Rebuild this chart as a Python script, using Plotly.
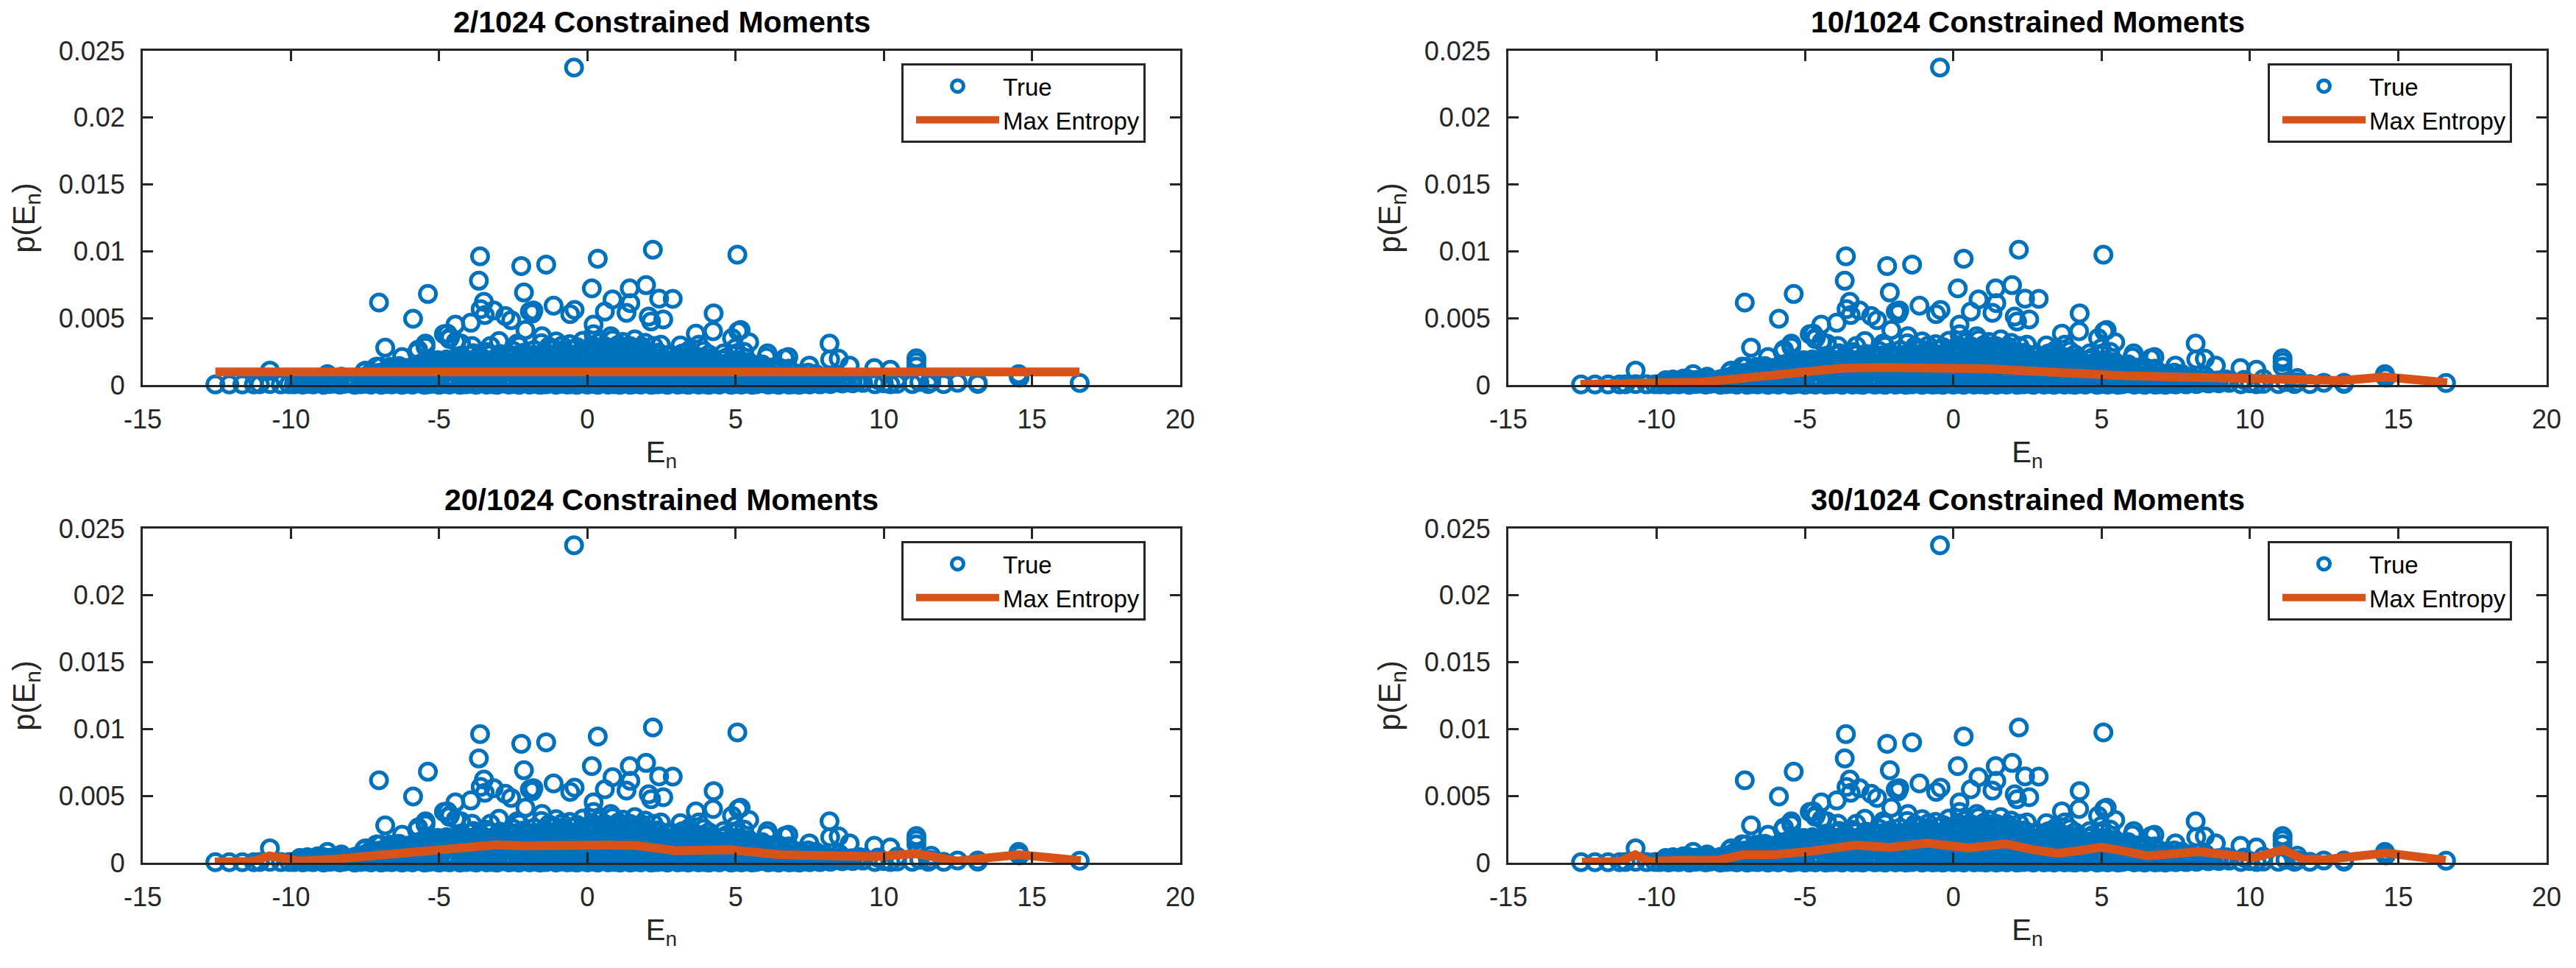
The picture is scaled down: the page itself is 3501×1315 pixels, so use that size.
import plotly.graph_objects as go

# ---- "True" scatter: values, (E_n, p(E_n)) ----
visible_points = [
(-0.45,0.02375),(2.21,0.01012),(5.06,0.00975),(-3.62,0.00962),(0.35,0.00945),(-1.39,0.00901),(-2.23,0.0089),
(-3.66,0.0078),(1.98,0.00747),(1.43,0.00723),(0.15,0.00723),(-2.14,0.00692),(-5.38,0.00681),(2.88,0.00644),(2.42,0.00646),
(0.85,0.0064),(-3.49,0.00622),(-7.03,0.00617),(1.45,0.00613),(-1.14,0.00593),(-3.6,0.00567),(-0.43,0.00562),(-3.16,0.00558),
(-1.82,0.00558),(0.59,0.00549),(-1.94,0.00549),(1.32,0.0054),(4.26,0.00536),(-1.86,0.00535),(-0.58,0.0053),(-3.46,0.00523),
(-2.77,0.00516),(2.07,0.00512),(-5.88,0.00496),(2.56,0.0049),(-2.57,0.00485),(2.15,0.00475),(-3.93,0.00466),(0.21,0.00451),
(-4.45,0.00451),(5.17,0.00411),(-2.09,0.00411),(4.24,0.00402),(5.09,0.00402),(-4.72,0.00384),(3.66,0.00384),(0.21,0.0038),
(-4.84,0.0038),(0.79,0.00365),(-1.53,0.00365),(-4.63,0.00356),(-4.66,0.00345),(4.88,0.00351),(-2.98,0.00329),(5.46,0.00319),
(-5.46,0.0031),(8.17,0.0031),(-4.26,0.0031),(-2.37,0.0031),(3.76,0.00301),(2.48,0.00301),(3.14,0.00296),(-3.89,0.00292),
(-3.27,0.00292),(2.23,0.00292),(-6.82,0.00279),(4.99,0.00275),(-5.71,0.00264),(3.43,0.00259),(3.93,0.00255),(5.29,0.00248),
(6.08,0.00237),(-6.25,0.00209),(6.04,0.00209),(6.78,0.00209),(11.1,0.002),(6.66,0.002),(8.48,0.00197),(8.19,0.00191),
(-5.75,0.00246),(-5.46,0.00285),(-4.44,0.00325),(11.1,0.00172),(8.85,0.00145),(7.49,0.00145),(-7.12,0.00137),(-6.99,0.00136),
(11.1,0.00137),(9.68,0.00127),(10.22,0.00114),(-7.49,0.00108),(-10.71,0.00108),(-7.53,0.00099),(-8.77,0.00081),(14.55,0.00081),
(14.55,0.00062),(14.58,0.00055),(11.6,0.00052),(10.45,0.00045),(9.8,0.00038),(-8.3,0.00062),(-9.1,0.00048),
(16.61,0.00015),(13.17,0.00017),(13.17,0.00008),(12.49,0.00017),(12.02,0.00007),(11.5,0.00007),(11.6,0.0002),(10.96,0.00007),
(11.2,0.00022),(10.22,0.00006),(10.0,0.00012),(9.7,0.00006),(10.45,0.00009),
(-12.55,0.00004),(-12.08,0.00004),(-11.64,0.00004),(-11.25,0.00004),(-11.05,0.00006),(-10.71,0.00007),(-10.34,0.00005),(-10.06,0.00006),
]
floor_points = [
(-9.9,0.00005),(-9.75,0.00012),(-9.6,0.00003),(-9.4,0.00009),(-9.25,0.00004),(-9.05,0.00014),(-8.9,0.00002),(-8.7,0.00007),(-8.55,0.00011),
(-8.35,0.00003),(-8.2,0.00008),(-8.0,0.00013),(-7.85,0.00002),(-7.65,0.00006),(-7.5,0.0001),(-7.3,0.00003),(-7.1,0.00012),(-6.95,0.00002),
(-6.75,0.00007),(-6.6,0.00004),(-6.4,0.00011),(-6.25,0.00002),(-6.05,0.00009),(-5.9,0.00003),(-5.7,0.00013),(-5.5,0.00002),(-5.35,0.00006),
(-5.15,0.0001),(-5.0,0.00002),(-4.8,0.00008),(-4.65,0.00003),(-4.45,0.00012),(-4.3,0.00002),(-4.1,0.00005),(-3.9,0.00009),(-3.75,0.00002),
(-3.55,0.00014),(-3.4,0.00003),(-3.2,0.00006),(-3.05,0.00002),(-2.85,0.00011),(-2.65,0.00003),(-2.5,0.00007),(-2.3,0.00002),(-2.15,0.00012),
(-1.95,0.00003),(-1.8,0.00008),(-1.6,0.00002),(-1.4,0.00005),(-1.25,0.00013),(-1.05,0.00002),(-0.9,0.00009),(-0.7,0.00003),(-0.55,0.00006),
(-0.35,0.00002),(-0.15,0.00011),(0.0,0.00003),(0.2,0.00008),(0.35,0.00002),(0.55,0.00013),(0.7,0.00003),(0.9,0.00006),(1.1,0.00002),
(1.25,0.0001),(1.45,0.00002),(1.6,0.00007),(1.8,0.00003),(1.95,0.00012),(2.15,0.00002),(2.35,0.00005),(2.5,0.00009),(2.7,0.00002),
(2.85,0.00014),(3.05,0.00003),(3.2,0.00007),(3.4,0.00002),(3.6,0.00011),(3.75,0.00003),(3.95,0.00006),(4.1,0.00002),(4.3,0.00009),
(4.45,0.00003),(4.65,0.00012),(4.85,0.00002),(5.0,0.00007),(5.2,0.00003),(5.35,0.0001),(5.55,0.00002),(5.7,0.00006),(5.9,0.00013),
(6.1,0.00003),(6.25,0.00008),(6.45,0.00002),(6.6,0.00011),(6.8,0.00003),(6.95,0.00006),(7.15,0.00002),(7.35,0.00009),(7.5,0.00004),
(7.7,0.00013),(7.85,0.00005),(8.05,0.00016),(8.2,0.00007),(8.4,0.00019),(8.6,0.00011),(8.75,0.00021),(8.95,0.00012),(9.1,0.00024),(9.3,0.00016),
]
near_floor_points = [
(-9.55,0.00021),(-9.3,0.00026),(-9.0,0.00019),(-8.75,0.00024),(-8.45,0.00029),(-8.15,0.00022),(-7.9,0.00027),(-7.6,0.0002),(-7.3,0.00025),
(-7.05,0.0003),(-6.75,0.00023),(-6.45,0.00018),(-6.2,0.00026),(-5.9,0.00021),(-5.6,0.00028),(-5.35,0.00023),(-5.05,0.00019),(-4.75,0.00027),
(-4.5,0.00022),(-4.2,0.00029),(-3.9,0.0002),(-3.65,0.00025),(-3.35,0.00021),(-3.05,0.00028),(-2.8,0.00024),(-2.5,0.00019),(-2.2,0.00026),
(-1.95,0.00022),(-1.65,0.00029),(-1.35,0.0002),(-1.1,0.00025),(-0.8,0.00023),(-0.5,0.00018),(-0.25,0.00027),(0.05,0.00021),(0.35,0.00028),
(0.6,0.00023),(0.9,0.00019),(1.2,0.00026),(1.45,0.00022),(1.75,0.00029),(2.05,0.0002),(2.3,0.00025),(2.6,0.00021),(2.9,0.00028),
(3.15,0.00024),(3.45,0.00019),(3.75,0.00026),(4.0,0.00022),(4.3,0.00029),(4.6,0.0002),(4.85,0.00025),(5.15,0.00023),(5.45,0.00018),
(5.7,0.00027),(6.0,0.00021),(6.3,0.00028),(6.55,0.00023),(6.85,0.00019),(7.15,0.00026),(7.4,0.00022),(7.7,0.00029),(8.0,0.0002),(8.3,0.00031),(8.6,0.00028),(8.95,0.00033),
]
low_points = [
(-9.7,0.00036),(-9.45,0.00041),(-9.2,0.00033),(-8.95,0.00045),(-8.65,0.00038),(-8.4,0.00047),(-8.1,0.00035),(-7.85,0.00044),(-7.6,0.00039),
(-7.25,0.00048),(-7.0,0.00036),(-6.7,0.00042),(-6.45,0.00051),(-6.15,0.00037),(-5.85,0.00046),(-5.6,0.00034),(-5.3,0.00043),(-5.05,0.00052),
(-4.75,0.00038),(-4.5,0.00047),(-4.2,0.00035),(-3.9,0.00044),(-3.65,0.00053),(-3.35,0.00039),(-3.1,0.00048),(-2.8,0.00036),(-2.55,0.00042),
(-2.25,0.00051),(-1.95,0.00037),(-1.7,0.00046),(-1.4,0.00034),(-1.15,0.00043),(-0.85,0.00052),(-0.6,0.00038),(-0.3,0.00047),(0.0,0.00035),
(0.25,0.00044),(0.55,0.00053),(0.8,0.00039),(1.1,0.00048),(1.35,0.00036),(1.65,0.00042),(1.95,0.00051),(2.2,0.00037),(2.5,0.00046),
(2.75,0.00034),(3.05,0.00043),(3.3,0.00052),(3.6,0.00038),(3.85,0.00047),(4.15,0.00035),(4.45,0.00044),(4.7,0.00053),(5.0,0.00039),
(5.25,0.00048),(5.55,0.00036),(5.8,0.00042),(6.1,0.00051),(6.4,0.00037),(6.65,0.00046),(6.95,0.00034),(7.2,0.00043),(7.5,0.00049),
(7.75,0.00038),(8.05,0.00047),(8.35,0.00035),(8.6,0.00044),(8.9,0.00033),(9.2,0.00041),
]
lower_mid_points = [
(-7.5,0.00064),(-7.2,0.0007),(-6.9,0.00066),(-6.6,0.00073),(-6.3,0.00067),(-6.0,0.00071),(-5.75,0.00064),(-5.45,0.00074),(-5.2,0.00068),
(-4.9,0.00072),(-4.65,0.00065),(-4.35,0.00075),(-4.1,0.00069),(-3.8,0.00063),(-3.55,0.00073),(-3.25,0.00067),(-3.0,0.00071),(-2.7,0.00065),
(-2.45,0.00074),(-2.15,0.00068),(-1.85,0.00063),(-1.6,0.00072),(-1.3,0.00066),(-1.05,0.00075),(-0.75,0.00069),(-0.5,0.00064),(-0.2,0.00073),
(0.1,0.00067),(0.35,0.00071),(0.65,0.00065),(0.9,0.00074),(1.2,0.00068),(1.45,0.00063),(1.75,0.00072),(2.05,0.00066),(2.3,0.00075),
(2.6,0.00069),(2.85,0.00064),(3.15,0.00073),(3.45,0.00067),(3.7,0.00071),(4.0,0.00065),(4.25,0.00074),(4.55,0.00068),(4.85,0.00063),
(5.1,0.00072),(5.4,0.00066),(5.65,0.00075),(5.95,0.00069),(6.25,0.00064),(6.5,0.00073),(6.8,0.00067),(7.05,0.00071),(7.35,0.00065),(7.65,0.00068),(8.0,0.00062),(8.5,0.00066),
]
mid_points = [
(-7.35,0.00082),(-7.05,0.00091),(-6.75,0.00098),(-6.5,0.00085),(-6.2,0.00102),(-5.9,0.00088),(-5.65,0.00097),(-5.35,0.00106),(-5.1,0.0009),
(-4.8,0.00099),(-4.55,0.00108),(-4.25,0.00093),(-3.95,0.00087),(-3.7,0.00101),(-3.4,0.00092),(-3.15,0.00106),(-2.85,0.00089),(-2.6,0.00098),
(-2.3,0.00085),(-2.0,0.00103),(-1.75,0.00092),(-1.45,0.00107),(-1.2,0.00088),(-0.9,0.00097),(-0.65,0.00105),(-0.35,0.0009),(-0.05,0.00099),
(0.2,0.00086),(0.5,0.00104),(0.75,0.00093),(1.05,0.00108),(1.3,0.00089),(1.6,0.00098),(1.9,0.00085),(2.15,0.00102),(2.45,0.00091),
(2.7,0.00106),(3.0,0.00088),(3.25,0.00097),(3.55,0.00105),(3.8,0.0009),(4.1,0.00099),(4.4,0.00086),(4.65,0.00104),(4.95,0.00093),
(5.2,0.00107),(5.5,0.00089),(5.75,0.00098),(6.05,0.00085),(6.35,0.00102),(6.6,0.00091),(6.9,0.00096),(7.15,0.00084),(7.45,0.00092),(7.7,0.00083),
]
upper_mid_points = [
(-6.75,0.00118),(-6.45,0.00123),(-6.15,0.00115),(-5.9,0.00126),(-5.6,0.0012),(-5.3,0.00117),(-5.05,0.00125),(-4.75,0.00119),(-4.45,0.00124),
(-4.2,0.00116),(-3.9,0.00127),(-3.6,0.00121),(-3.35,0.00118),(-3.05,0.00125),(-2.75,0.00119),(-2.5,0.00123),(-2.2,0.00116),(-1.9,0.00126),
(-1.65,0.0012),(-1.35,0.00124),(-1.05,0.00117),(-0.8,0.00127),(-0.5,0.00121),(-0.2,0.00118),(0.05,0.00125),(0.35,0.00119),(0.65,0.00123),
(0.9,0.00116),(1.2,0.00126),(1.5,0.0012),(1.75,0.00124),(2.05,0.00117),(2.35,0.00127),(2.6,0.00121),(2.9,0.00118),(3.2,0.00125),
(3.45,0.00119),(3.75,0.00123),(4.05,0.00116),(4.3,0.00126),(4.6,0.0012),(4.9,0.00124),(5.15,0.00117),(5.45,0.00122),(5.75,0.00115),(6.05,0.00118),(6.4,0.00112),(6.8,0.00108),
]
upper_points = [
(-6.65,0.00135),(-6.35,0.00142),(-6.05,0.00128),(-5.75,0.00151),(-5.5,0.00137),(-5.2,0.00146),(-4.9,0.00133),(-4.65,0.00155),(-4.35,0.0014),
(-4.05,0.00149),(-3.8,0.00136),(-3.5,0.00152),(-3.2,0.00143),(-2.95,0.00131),(-2.65,0.00156),(-2.35,0.00139),(-2.05,0.00148),(-1.8,0.00134),
(-1.5,0.00153),(-1.2,0.00141),(-0.95,0.0015),(-0.65,0.00132),(-0.35,0.00146),(-0.05,0.00138),(0.2,0.00155),(0.5,0.00143),(0.8,0.00133),
(1.05,0.00151),(1.35,0.0014),(1.65,0.00148),(1.95,0.00135),(2.2,0.00154),(2.5,0.00142),(2.8,0.0013),(3.05,0.0015),(3.35,0.00138),
(3.65,0.00147),(3.95,0.00134),(4.2,0.00152),(4.5,0.00141),(4.8,0.00149),(5.05,0.00136),(5.35,0.00145),(5.65,0.00132),(5.95,0.00141),
(6.2,0.0013),(6.5,0.00128),(6.8,0.00122),
]
shoulder_points = [
(-5.6,0.00163),(-5.3,0.00168),(-5.0,0.00161),(-4.7,0.00171),(-4.4,0.00165),(-4.1,0.00169),(-3.8,0.00162),(-3.5,0.00172),(-3.2,0.00166),
(-2.9,0.0017),(-2.6,0.00163),(-2.3,0.00173),(-2.0,0.00167),(-1.7,0.00161),(-1.4,0.00171),(-1.1,0.00165),(-0.8,0.00169),(-0.5,0.00162),
(-0.2,0.00172),(0.1,0.00166),(0.4,0.0017),(0.7,0.00163),(1.0,0.00173),(1.3,0.00167),(1.6,0.00161),(1.9,0.00171),(2.2,0.00165),
(2.5,0.00169),(2.8,0.00162),(3.1,0.00168),(3.4,0.00161),(3.7,0.00166),(4.0,0.0016),(4.3,0.00164),(4.6,0.00158),(4.9,0.00163),(5.2,0.00157),(5.5,0.0016),(5.9,0.00154),
]
high_points = [
(-5.35,0.00178),(-5.05,0.00186),(-4.75,0.00192),(-4.45,0.00181),(-4.15,0.00198),(-3.85,0.00188),(-3.55,0.00202),(-3.25,0.00184),(-2.95,0.00196),
(-2.65,0.00207),(-2.35,0.00189),(-2.05,0.002),(-1.75,0.00186),(-1.45,0.00208),(-1.15,0.00193),(-0.85,0.00203),(-0.55,0.00187),(-0.25,0.00199),
(0.05,0.00209),(0.35,0.0019),(0.65,0.00204),(0.95,0.00188),(1.25,0.00206),(1.55,0.00194),(1.85,0.00201),(2.15,0.00186),(2.45,0.00197),
(2.75,0.00183),(3.05,0.00192),(3.35,0.00178),(3.65,0.00187),(3.95,0.00175),(4.25,0.00184),(4.55,0.0019),(4.85,0.00177),(5.15,0.00186),(5.45,0.00172),
]
crest_points = [
(-4.3,0.00218),(-3.95,0.00224),(-3.65,0.00217),(-3.3,0.00226),(-3.0,0.00221),(-2.7,0.00229),(-2.4,0.00222),(-2.1,0.00231),(-1.8,0.00225),
(-1.5,0.00234),(-1.2,0.00227),(-0.9,0.00235),(-0.6,0.00229),(-0.3,0.00237),(0.0,0.00231),(0.3,0.00238),(0.6,0.00232),(0.9,0.00239),
(1.2,0.00233),(1.5,0.00237),(1.8,0.0023),(2.1,0.00234),(2.4,0.00226),(2.7,0.00221),(3.05,0.00216),(3.4,0.00212),(3.8,0.00207),(4.2,0.00203),(4.7,0.00206),
]
peak_points = [
(-3.85,0.00238),(-3.4,0.00247),(-2.95,0.00232),(-2.5,0.00254),(-2.15,0.00241),(-1.8,0.00262),(-1.45,0.00248),(-1.1,0.00268),(-0.75,0.00252),
(-0.4,0.00271),(-0.05,0.00256),(0.3,0.00274),(0.65,0.00259),(1.0,0.00276),(1.35,0.00261),(1.7,0.00268),(2.05,0.00249),(2.4,0.00242),
(2.8,0.00228),(3.2,0.00236),(3.6,0.00222),(4.1,0.00229),(4.6,0.00237),(5.0,0.00224),
(-1.55,0.00312),(-1.05,0.00326),(-0.6,0.00305),(-0.15,0.00331),(0.4,0.00318),(0.85,0.00338),(1.2,0.00322),(1.6,0.00341),(1.95,0.00315),(-2.3,0.00292),
(-1.3,0.00288),(-0.85,0.00295),(-0.35,0.00284),(0.15,0.00298),(0.6,0.00289),(1.05,0.00302),(1.45,0.00291),(1.85,0.00287),
]

# ---- "Max Entropy" curves, one per panel ----
curve_2_E = [-12.55, 16.6]
curve_2_p = [0.00098, 0.00098]
curve_10_E = [-12.57,-10.5,-8.48,-7.2,-6.01,-4.9,-3.76,-2.4,-1.06,0.1,1.18,2.3,3.43,4.5,5.68,7.1,8.6,10.85,12.0,13.1,14.56,16.65]
curve_10_p = [0.00006,0.00014,0.00022,0.00048,0.00079,0.00105,0.00125,0.00131,0.0013,0.00128,0.00121,0.00107,0.00092,0.0008,0.0007,0.00062,0.00057,0.00033,0.00031,0.00033,0.00061,0.00017]
curve_20_E = [-12.57,-11.3,-10.73,-9.72,-8.48,-7.13,-5.78,-4.44,-3.09,-2.1,-1.06,-0.2,0.73,1.63,2.98,3.9,4.78,6.58,8.38,9.72,11.07,12.47,14.56,16.65]
curve_20_p = [0.00006,0.00009,0.00052,0.00013,0.00028,0.00055,0.00086,0.00105,0.00134,0.00127,0.00123,0.00127,0.00132,0.0013,0.0009,0.00093,0.00097,0.00059,0.00059,0.00046,0.00068,0.00013,0.00061,0.00015]
curve_30_E = [-12.52,-11.25,-10.72,-10.24,-9.35,-7.96,-7.07,-6.06,-4.8,-3.28,-2.14,-0.88,0.53,1.13,1.76,2.7,3.54,4.3,4.99,5.8,6.57,8.28,10.12,11.13,11.77,12.52,14.61,16.6]
curve_30_p = [0.00004,0.00009,0.0006,0.00009,0.00018,0.00018,0.0006,0.0006,0.00086,0.00132,0.00114,0.00147,0.0011,0.00123,0.00141,0.00097,0.0007,0.00092,0.00116,0.00085,0.00051,0.00083,0.00037,0.00097,0.00028,0.00024,0.00073,0.00018]

panel_titles = ["2/1024 Constrained Moments", "10/1024 Constrained Moments",
                "20/1024 Constrained Moments", "30/1024 Constrained Moments"]
x_ticks = [-15, -10, -5, 0, 5, 10, 15, 20]
y_ticks = [0, 0.005, 0.01, 0.015, 0.02, 0.025]
y_tick_labels = ["0", "0.005", "0.01", "0.015", "0.02", "0.025"]
legend_names = ["True", "Max Entropy"]

BLUE, ORANGE, INK = "#0072BD", "#D95319", "#262626"
FONT = "Liberation Sans"
W, H = 3501, 1315
all_points = (floor_points + near_floor_points + low_points + lower_mid_points + mid_points + upper_mid_points
              + upper_points + shoulder_points + high_points + crest_points + peak_points + visible_points)
true_E = [pt[0] for pt in all_points]
true_p = [pt[1] for pt in all_points]
curves = [(curve_2_E, curve_2_p), (curve_10_E, curve_10_p), (curve_20_E, curve_20_p), (curve_30_E, curve_30_p)]
boxes = [(194, 1604, 69, 523), (2050, 3461, 69, 523), (194, 1604, 718, 1172), (2050, 3461, 718, 1172)]

fig = go.Figure()
layout = dict(width=W, height=H, margin=dict(l=0, r=0, t=0, b=0), autosize=False,
              paper_bgcolor="white", plot_bgcolor="white", annotations=[])
for i, ((ce, cp), (x0, x1, y0, y1), title) in enumerate(zip(curves, boxes, panel_titles)):
    s = "" if i == 0 else str(i + 1)
    leg = "legend" + s
    fig.add_trace(go.Scatter(x=true_E, y=true_p, mode="markers", name=legend_names[0], xaxis="x" + s, yaxis="y" + s,
                             legend=leg, cliponaxis=False,
                             marker=dict(symbol="circle-open", size=22, color=BLUE, line=dict(width=5, color=BLUE))))
    fig.add_trace(go.Scatter(x=ce, y=cp, mode="lines", name=legend_names[1], xaxis="x" + s, yaxis="y" + s,
                             legend=leg, cliponaxis=False, line=dict(color=ORANGE, width=12)))
    axis = dict(showline=True, linecolor=INK, linewidth=3, mirror="ticks", ticks="inside", ticklen=14, tickwidth=3,
                tickcolor=INK, showgrid=False, zeroline=False,
                tickfont=dict(family=FONT, size=36, color=INK), automargin=False)
    layout["xaxis" + s] = dict(axis, domain=[x0 / W, x1 / W], range=[-15, 20], anchor="y" + s, tickmode="array",
                               tickvals=x_ticks, ticktext=[str(t) for t in x_ticks], ticklabelstandoff=13,
                               title=dict(text="E<sub>n</sub>", font=dict(family=FONT, size=40, color=INK), standoff=11))
    layout["yaxis" + s] = dict(axis, domain=[1 - y1 / H, 1 - y0 / H], range=[0, 0.025], anchor="x" + s, tickmode="array",
                               tickvals=y_ticks, ticktext=y_tick_labels, ticklabelstandoff=14,
                               title=dict(text="p(E<sub>n</sub>)", font=dict(family=FONT, size=42, color=INK), standoff=20))
    layout[leg] = dict(x=(x1 - 379) / W, y=1 - (y0 + 17) / H, xanchor="left", yanchor="top", bgcolor="white",
                       bordercolor=INK, borderwidth=3, font=dict(family=FONT, size=33, color="black"),
                       itemwidth=113, indentation=12, entrywidth=229, entrywidthmode="pixels",
                       tracegroupgap=0, itemclick=False, itemdoubleclick=False)
    layout["annotations"].append(dict(text="<b>%s</b>" % title, xref="x%s domain" % s, yref="y%s domain" % s,
                                      x=0.5, y=1, xanchor="center", yanchor="bottom", yshift=14, showarrow=False,
                                      font=dict(family=FONT, size=41, color="black")))
fig.update_layout(**layout)
fig.write_html("out.html", config={"displayModeBar": False},
               post_script="document.body.style.margin='0';document.body.style.overflow='hidden';")
